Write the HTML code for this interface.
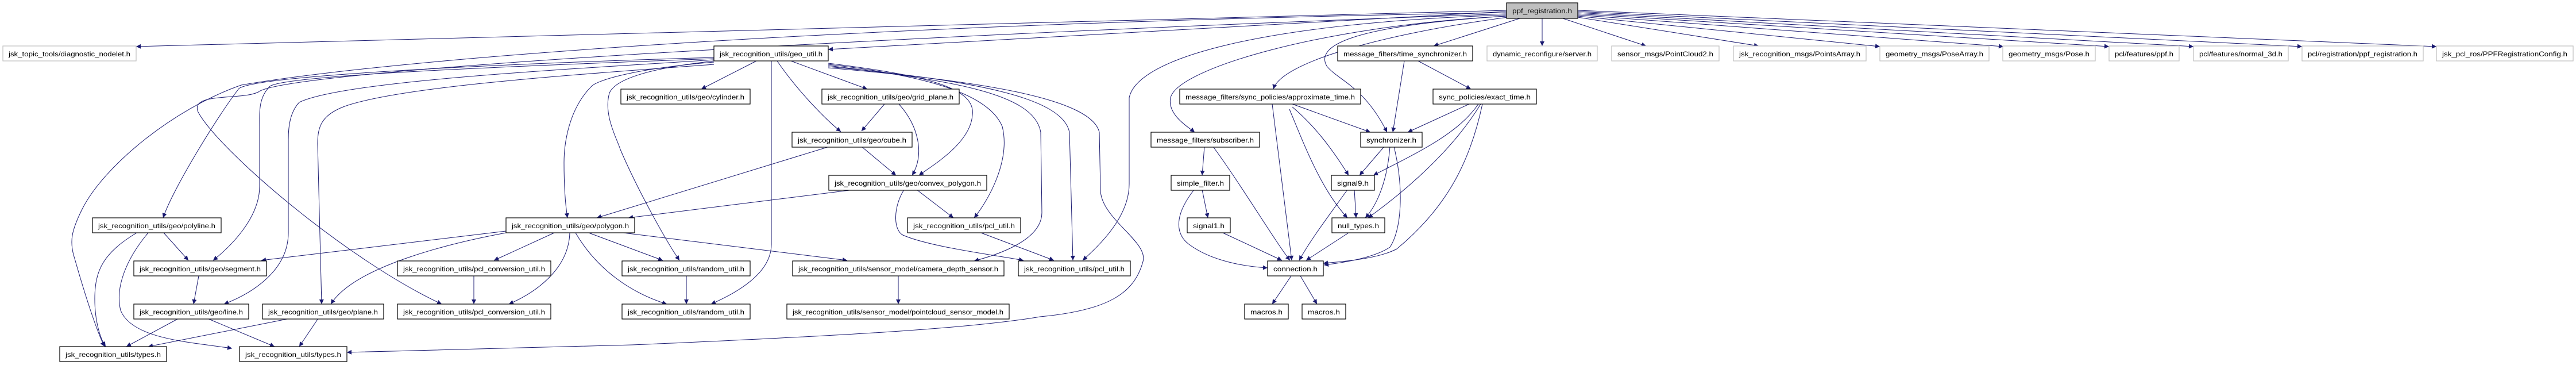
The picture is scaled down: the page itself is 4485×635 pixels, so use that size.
<!DOCTYPE html>
<html><head><meta charset="utf-8"><style>
html,body{margin:0;padding:0;background:#fff;}
svg{display:block;}
text{font-family:"Liberation Sans",sans-serif;font-size:12px;fill:#000;}
.n{fill:#fff;stroke:#000;stroke-width:1.2;}
.g{fill:#fff;stroke:#bfbfbf;stroke-width:1.2;}
.e{fill:none;stroke:#191970;stroke-width:1;marker-end:url(#a);}
</style></head><body>
<svg width="4485" height="635" viewBox="0 0 4485 635" xmlns="http://www.w3.org/2000/svg">
<defs><marker id="a" viewBox="0 0 10 10" refX="10" refY="5" markerWidth="11" markerHeight="8" markerUnits="userSpaceOnUse" orient="auto"><path d="M0,0L10,5L0,10z" fill="#191970"/></marker></defs>
<g id="edges">
<path class="e" d="M2623,18 L237,81"/>
<path class="e" d="M2623,20 L1442,86"/>
<path class="e" d="M2623,22 C1500,40 700,100 420,148 C300,190 180,290 143,364 C125,400 120,420 130,450 C150,520 170,580 182,603"/>
<path class="e" d="M2623,24 C1600,60 500,120 450,160 C420,175 330,160 345,195 C380,260 600,450 769,529"/>
<path class="e" d="M2623,26 C2200,40 1980,100 1966,170 L1966,320 C1966,380 1910,430 1885,453"/>
<path class="e" d="M2623,28 C2300,45 2050,120 2038,170 C2032,200 2070,222 2080,230"/>
<path class="e" d="M2625,30 C2400,60 2230,110 2217,155"/>
<path class="e" d="M2646,32 L2496,80"/>
<path class="e" d="M2623,28 C2350,45 2290,80 2310,115 C2330,140 2375,150 2415,230"/>
<path class="e" d="M2685,32 L2685,80"/>
<path class="e" d="M2721,32 L2866,80"/>
<path class="e" d="M2747,30 L3062,80"/>
<path class="e" d="M2747,28 L3273,81"/>
<path class="e" d="M2747,26 L3488,81"/>
<path class="e" d="M2747,24 L3672,81"/>
<path class="e" d="M2747,22 L3819,81"/>
<path class="e" d="M2747,20 L4008,81"/>
<path class="e" d="M2747,18 L4242,81"/>
<path class="e" d="M1243,100 C900,110 450,130 416,154 C380,200 300,330 284,379"/>
<path class="e" d="M1243,102 C900,115 500,130 470,150 C450,170 452,194 452,220 L452,324 C452,380 400,430 371,453"/>
<path class="e" d="M1243,104 C1000,120 600,140 521,178 C505,195 502,220 502,243 L502,405 C502,470 440,510 390,529"/>
<path class="e" d="M1243,112 C1000,130 700,150 600,185 C560,200 553,220 553,250 L560,529"/>
<path class="e" d="M1243,108 C1100,120 1040,140 1030,150 C990,190 982,250 982,283 C982,330 985,360 988,379"/>
<path class="e" d="M1243,106 C1120,120 1070,140 1061,162 C1050,200 1075,243 1080,260 C1110,330 1160,420 1183,453"/>
<path class="e" d="M1317,106 L1221,155"/>
<path class="e" d="M1343,106 L1343,425 C1343,480 1270,515 1238,529"/>
<path class="e" d="M1353,106 C1390,160 1440,210 1464,229"/>
<path class="e" d="M1377,106 L1510,155"/>
<path class="e" d="M1442,110 C1600,130 1700,150 1693,200 C1690,250 1620,290 1600,305"/>
<path class="e" d="M1442,112 C1600,130 1720,160 1745,220 C1760,280 1720,350 1696,379"/>
<path class="e" d="M1442,114 C1650,140 1800,160 1812,230 L1814,370 C1814,420 1730,445 1696,454"/>
<path class="e" d="M1442,116 C1700,140 1850,170 1862,230 L1868,453"/>
<path class="e" d="M1442,118 C1700,140 1900,170 1914,230 L1916,330 C1916,380 2000,420 1990,455 C1975,510 1930,540 1811,551 C1700,570 1500,583 1100,600 L604,613"/>
<path class="e" d="M881,402 L455,453"/>
<path class="e" d="M881,405 C800,420 620,460 576,529"/>
<path class="e" d="M965,405 L860,453"/>
<path class="e" d="M992,405 C990,470 930,510 886,529"/>
<path class="e" d="M1025,405 L1154,453"/>
<path class="e" d="M1002,405 C1040,470 1100,510 1161,529"/>
<path class="e" d="M1085,405 L1475,453"/>
<path class="e" d="M825,480 L825,529"/>
<path class="e" d="M1195,480 L1195,529"/>
<path class="e" d="M1444,255 L1039,379"/>
<path class="e" d="M1487,330 L1094,379"/>
<path class="e" d="M1540,181 L1500,228"/>
<path class="e" d="M1565,181 C1600,220 1610,270 1588,305"/>
<path class="e" d="M1500,255 L1560,305"/>
<path class="e" d="M1596,330 L1660,379"/>
<path class="e" d="M1574,330 C1555,360 1555,400 1572,409 C1620,430 1740,445 1782,453"/>
<path class="e" d="M1708,405 L1835,453"/>
<path class="e" d="M1564,480 L1564,529"/>
<path class="e" d="M285,405 L328,453"/>
<path class="e" d="M238,405 C180,440 165,470 165,520 C165,560 175,590 184,603"/>
<path class="e" d="M258,405 C220,450 200,500 210,540 C230,590 330,595 404,606"/>
<path class="e" d="M346,480 L337,529"/>
<path class="e" d="M311,554 L220,603"/>
<path class="e" d="M361,554 L478,603"/>
<path class="e" d="M505,554 L258,603"/>
<path class="e" d="M554,554 L521,603"/>
<path class="e" d="M2215,181 L2249,453"/>
<path class="e" d="M2250,181 L2386,230"/>
<path class="e" d="M2250,186 C2290,220 2320,260 2348,305"/>
<path class="e" d="M2245,190 C2270,250 2300,330 2346,379"/>
<path class="e" d="M2097,255 L2093,305"/>
<path class="e" d="M2112,255 C2160,320 2220,420 2246,453"/>
<path class="e" d="M2093,330 L2103,379"/>
<path class="e" d="M2079,330 C2040,380 2050,410 2070,425 C2110,455 2170,464 2207,466"/>
<path class="e" d="M2129,405 L2232,453"/>
<path class="e" d="M2248,480 L2215,529"/>
<path class="e" d="M2264,480 L2293,529"/>
<path class="e" d="M2445,106 L2425,230"/>
<path class="e" d="M2469,106 L2561,155"/>
<path class="e" d="M2558,181 L2451,230"/>
<path class="e" d="M2574,181 C2540,230 2480,260 2391,305"/>
<path class="e" d="M2578,181 C2530,260 2450,330 2382,379"/>
<path class="e" d="M2581,181 C2560,280 2520,360 2432,433 C2400,450 2340,455 2304,458"/>
<path class="e" d="M2410,255 L2367,305"/>
<path class="e" d="M2420,255 C2415,320 2395,360 2377,379"/>
<path class="e" d="M2427,255 C2445,330 2440,400 2420,430 C2390,450 2330,458 2305,461"/>
<path class="e" d="M2358,330 L2361,379"/>
<path class="e" d="M2346,330 C2310,380 2280,420 2262,453"/>
<path class="e" d="M2348,405 L2274,453"/>
</g>
<g id="nodes">
<rect x="2623" y="5" width="124" height="27" fill="#bfbfbf" stroke="#000" stroke-width="1.2"/><text x="2685" y="23" text-anchor="middle" textLength="104" lengthAdjust="spacingAndGlyphs">ppf_registration.h</text>
<rect class="g" x="5" y="80" width="232" height="26"/><text x="121" y="98" text-anchor="middle" textLength="212" lengthAdjust="spacingAndGlyphs">jsk_topic_tools/diagnostic_nodelet.h</text>
<rect class="n" x="1243" y="80" width="199" height="26"/><text x="1342.5" y="98" text-anchor="middle" textLength="179" lengthAdjust="spacingAndGlyphs">jsk_recognition_utils/geo_util.h</text>
<rect class="n" x="2329" y="80" width="235" height="26"/><text x="2446.5" y="98" text-anchor="middle" textLength="215" lengthAdjust="spacingAndGlyphs">message_filters/time_synchronizer.h</text>
<rect class="g" x="2589" y="80" width="192" height="26"/><text x="2685" y="98" text-anchor="middle" textLength="172" lengthAdjust="spacingAndGlyphs">dynamic_reconfigure/server.h</text>
<rect class="g" x="2806" y="80" width="187" height="26"/><text x="2899.5" y="98" text-anchor="middle" textLength="167" lengthAdjust="spacingAndGlyphs">sensor_msgs/PointCloud2.h</text>
<rect class="g" x="3018" y="80" width="231" height="26"/><text x="3133.5" y="98" text-anchor="middle" textLength="211" lengthAdjust="spacingAndGlyphs">jsk_recognition_msgs/PointsArray.h</text>
<rect class="g" x="3273" y="80" width="190" height="26"/><text x="3368" y="98" text-anchor="middle" textLength="170" lengthAdjust="spacingAndGlyphs">geometry_msgs/PoseArray.h</text>
<rect class="g" x="3487" y="80" width="161" height="26"/><text x="3567.5" y="98" text-anchor="middle" textLength="141" lengthAdjust="spacingAndGlyphs">geometry_msgs/Pose.h</text>
<rect class="g" x="3672" y="80" width="122" height="26"/><text x="3733" y="98" text-anchor="middle" textLength="102" lengthAdjust="spacingAndGlyphs">pcl/features/ppf.h</text>
<rect class="g" x="3819" y="80" width="165" height="26"/><text x="3901.5" y="98" text-anchor="middle" textLength="145" lengthAdjust="spacingAndGlyphs">pcl/features/normal_3d.h</text>
<rect class="g" x="4008" y="80" width="211" height="26"/><text x="4113.5" y="98" text-anchor="middle" textLength="191" lengthAdjust="spacingAndGlyphs">pcl/registration/ppf_registration.h</text>
<rect class="g" x="4242" y="80" width="238" height="26"/><text x="4361" y="98" text-anchor="middle" textLength="218" lengthAdjust="spacingAndGlyphs">jsk_pcl_ros/PPFRegistrationConfig.h</text>
<rect class="n" x="1081" y="155" width="225" height="26"/><text x="1193.5" y="173" text-anchor="middle" textLength="205" lengthAdjust="spacingAndGlyphs">jsk_recognition_utils/geo/cylinder.h</text>
<rect class="n" x="1431" y="155" width="239" height="26"/><text x="1550.5" y="173" text-anchor="middle" textLength="219" lengthAdjust="spacingAndGlyphs">jsk_recognition_utils/geo/grid_plane.h</text>
<rect class="n" x="2054" y="155" width="315" height="26"/><text x="2211.5" y="173" text-anchor="middle" textLength="295" lengthAdjust="spacingAndGlyphs">message_filters/sync_policies/approximate_time.h</text>
<rect class="n" x="2495" y="155" width="180" height="26"/><text x="2585" y="173" text-anchor="middle" textLength="160" lengthAdjust="spacingAndGlyphs">sync_policies/exact_time.h</text>
<rect class="n" x="1379" y="230" width="209" height="26"/><text x="1483.5" y="248" text-anchor="middle" textLength="189" lengthAdjust="spacingAndGlyphs">jsk_recognition_utils/geo/cube.h</text>
<rect class="n" x="2004" y="230" width="189" height="26"/><text x="2098.5" y="248" text-anchor="middle" textLength="169" lengthAdjust="spacingAndGlyphs">message_filters/subscriber.h</text>
<rect class="n" x="2369" y="230" width="107" height="26"/><text x="2422.5" y="248" text-anchor="middle" textLength="87" lengthAdjust="spacingAndGlyphs">synchronizer.h</text>
<rect class="n" x="1443" y="305" width="275" height="26"/><text x="1580.5" y="323" text-anchor="middle" textLength="255" lengthAdjust="spacingAndGlyphs">jsk_recognition_utils/geo/convex_polygon.h</text>
<rect class="n" x="2039" y="305" width="102" height="26"/><text x="2090" y="323" text-anchor="middle" textLength="82" lengthAdjust="spacingAndGlyphs">simple_filter.h</text>
<rect class="n" x="2318" y="305" width="75" height="26"/><text x="2355.5" y="323" text-anchor="middle" textLength="55" lengthAdjust="spacingAndGlyphs">signal9.h</text>
<rect class="n" x="161" y="379" width="224" height="26"/><text x="273" y="397" text-anchor="middle" textLength="204" lengthAdjust="spacingAndGlyphs">jsk_recognition_utils/geo/polyline.h</text>
<rect class="n" x="881" y="379" width="224" height="26"/><text x="993" y="397" text-anchor="middle" textLength="204" lengthAdjust="spacingAndGlyphs">jsk_recognition_utils/geo/polygon.h</text>
<rect class="n" x="1580" y="379" width="197" height="26"/><text x="1678.5" y="397" text-anchor="middle" textLength="177" lengthAdjust="spacingAndGlyphs">jsk_recognition_utils/pcl_util.h</text>
<rect class="n" x="2067" y="379" width="75" height="26"/><text x="2104.5" y="397" text-anchor="middle" textLength="55" lengthAdjust="spacingAndGlyphs">signal1.h</text>
<rect class="n" x="2319" y="379" width="92" height="26"/><text x="2365" y="397" text-anchor="middle" textLength="72" lengthAdjust="spacingAndGlyphs">null_types.h</text>
<rect class="n" x="233" y="454" width="231" height="26"/><text x="348.5" y="472" text-anchor="middle" textLength="211" lengthAdjust="spacingAndGlyphs">jsk_recognition_utils/geo/segment.h</text>
<rect class="n" x="692" y="454" width="267" height="26"/><text x="825.5" y="472" text-anchor="middle" textLength="247" lengthAdjust="spacingAndGlyphs">jsk_recognition_utils/pcl_conversion_util.h</text>
<rect class="n" x="1083" y="454" width="223" height="26"/><text x="1194.5" y="472" text-anchor="middle" textLength="203" lengthAdjust="spacingAndGlyphs">jsk_recognition_utils/random_util.h</text>
<rect class="n" x="1380" y="454" width="368" height="26"/><text x="1564" y="472" text-anchor="middle" textLength="348" lengthAdjust="spacingAndGlyphs">jsk_recognition_utils/sensor_model/camera_depth_sensor.h</text>
<rect class="n" x="1773" y="454" width="195" height="26"/><text x="1870.5" y="472" text-anchor="middle" textLength="175" lengthAdjust="spacingAndGlyphs">jsk_recognition_utils/pcl_util.h</text>
<rect class="n" x="2207" y="454" width="97" height="26"/><text x="2255.5" y="472" text-anchor="middle" textLength="77" lengthAdjust="spacingAndGlyphs">connection.h</text>
<rect class="n" x="233" y="529" width="200" height="26"/><text x="333" y="547" text-anchor="middle" textLength="180" lengthAdjust="spacingAndGlyphs">jsk_recognition_utils/geo/line.h</text>
<rect class="n" x="457" y="529" width="211" height="26"/><text x="562.5" y="547" text-anchor="middle" textLength="191" lengthAdjust="spacingAndGlyphs">jsk_recognition_utils/geo/plane.h</text>
<rect class="n" x="692" y="529" width="267" height="26"/><text x="825.5" y="547" text-anchor="middle" textLength="247" lengthAdjust="spacingAndGlyphs">jsk_recognition_utils/pcl_conversion_util.h</text>
<rect class="n" x="1083" y="529" width="223" height="26"/><text x="1194.5" y="547" text-anchor="middle" textLength="203" lengthAdjust="spacingAndGlyphs">jsk_recognition_utils/random_util.h</text>
<rect class="n" x="1370" y="529" width="387" height="26"/><text x="1563.5" y="547" text-anchor="middle" textLength="367" lengthAdjust="spacingAndGlyphs">jsk_recognition_utils/sensor_model/pointcloud_sensor_model.h</text>
<rect class="n" x="2167" y="529" width="76" height="26"/><text x="2205" y="547" text-anchor="middle" textLength="56" lengthAdjust="spacingAndGlyphs">macros.h</text>
<rect class="n" x="2267" y="529" width="76" height="26"/><text x="2305" y="547" text-anchor="middle" textLength="56" lengthAdjust="spacingAndGlyphs">macros.h</text>
<rect class="n" x="104" y="603" width="186" height="26"/><text x="197" y="621" text-anchor="middle" textLength="166" lengthAdjust="spacingAndGlyphs">jsk_recognition_utils/types.h</text>
<rect class="n" x="417" y="603" width="187" height="26"/><text x="510.5" y="621" text-anchor="middle" textLength="167" lengthAdjust="spacingAndGlyphs">jsk_recognition_utils/types.h</text>
</g>
</svg>
</body></html>
